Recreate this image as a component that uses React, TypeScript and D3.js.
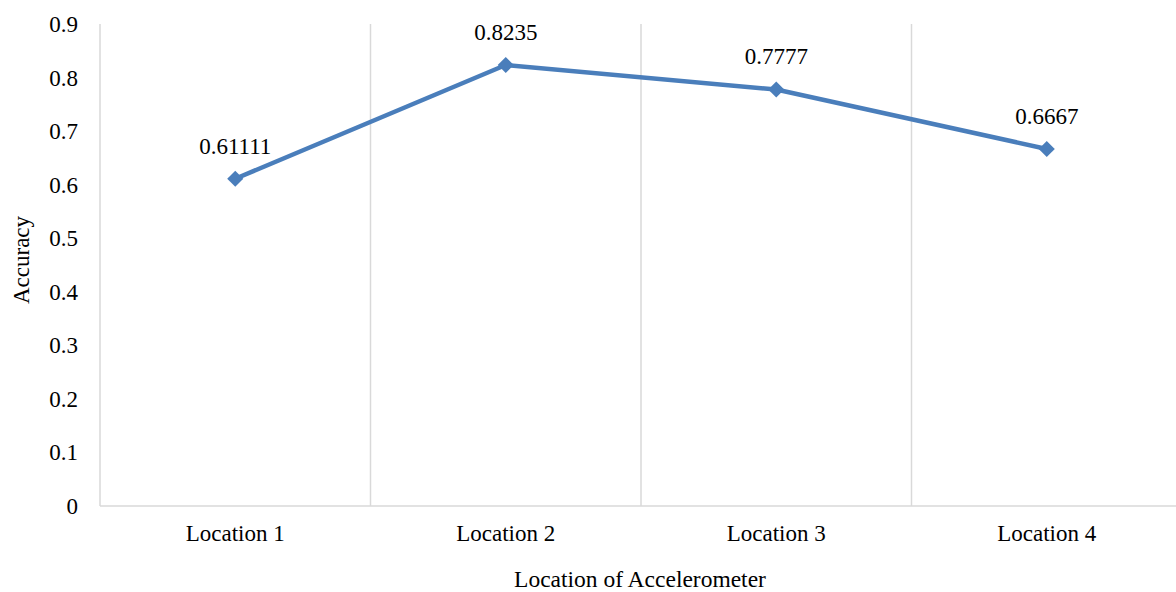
import React from "react";
import * as d3 from "d3";

const categories = ["Location 1", "Location 2", "Location 3", "Location 4"];
const accuracy = [0.61111, 0.8235, 0.7777, 0.6667];
const accuracyLabels = ["0.61111", "0.8235", "0.7777", "0.6667"];
const yTicks = [0, 0.1, 0.2, 0.3, 0.4, 0.5, 0.6, 0.7, 0.8, 0.9];

const W = 1176;
const H = 592;
const left = 100;
const band = 270.5;
const top = 24;
const bottom = 506;
const font = '"Liberation Serif", "Times New Roman", Times, serif';
const lineColor = "#4a7ebb";
const gridColor = "#d9d9d9";

export default function App() {
  const x = d3
    .scaleBand<string>()
    .domain(categories)
    .range([left, left + band * categories.length])
    .paddingInner(0)
    .paddingOuter(0);
  const y = d3.scaleLinear().domain([0, 0.9]).range([bottom, top]);
  const cx = (c: string) => (x(c) ?? 0) + x.bandwidth() / 2;

  const line = d3
    .line<number>()
    .x((_, i) => cx(categories[i]))
    .y((d) => y(d));

  const diamond = d3.symbol().type(d3.symbolDiamond2).size(165)();

  const textStyle: React.CSSProperties = { fontFamily: font, fontSize: 23 };

  return (
    <svg
      width={W}
      height={H}
      style={{ position: "absolute", left: 0, top: 0, background: "#fff", fontFamily: font }}
    >
      {/* category boundary gridlines */}
      {categories.map((c) => (
        <line
          key={c}
          x1={x(c)}
          x2={x(c)}
          y1={top}
          y2={bottom}
          stroke={gridColor}
          strokeWidth={1.5}
        />
      ))}
      {/* baseline */}
      <line x1={left} x2={W} y1={bottom} y2={bottom} stroke={gridColor} strokeWidth={1.5} />

      {/* y tick labels */}
      {yTicks.map((t) => (
        <text
          key={t}
          x={78}
          y={y(t)}
          dy="0.35em"
          textAnchor="end"
          style={textStyle}
          fill="#000"
        >
          {t === 0 ? "0" : t.toFixed(1)}
        </text>
      ))}

      {/* x category labels */}
      {categories.map((c) => (
        <text key={c} x={cx(c)} y={541} textAnchor="middle" style={textStyle} fill="#000">
          {c}
        </text>
      ))}

      {/* series line */}
      <path
        d={line(accuracy) ?? ""}
        fill="none"
        stroke={lineColor}
        strokeWidth={4.5}
        strokeLinejoin="round"
      />
      {accuracy.map((v, i) => (
        <path
          key={i}
          d={diamond ?? ""}
          transform={`translate(${cx(categories[i])},${y(v)})`}
          fill={lineColor}
        />
      ))}

      {/* data labels */}
      {accuracy.map((v, i) => (
        <text
          key={i}
          x={cx(categories[i])}
          y={y(v) - 25}
          textAnchor="middle"
          style={textStyle}
          fill="#000"
        >
          {accuracyLabels[i]}
        </text>
      ))}

      {/* axis titles */}
      <text
        transform={`translate(29,260) rotate(-90)`}
        textAnchor="middle"
        style={textStyle}
        fill="#000"
      >
        Accuracy
      </text>
      <text
        x={640}
        y={587}
        textAnchor="middle"
        style={{ ...textStyle, fontSize: 23.5 }}
        fill="#000"
      >
        Location of Accelerometer
      </text>
    </svg>
  );
}
